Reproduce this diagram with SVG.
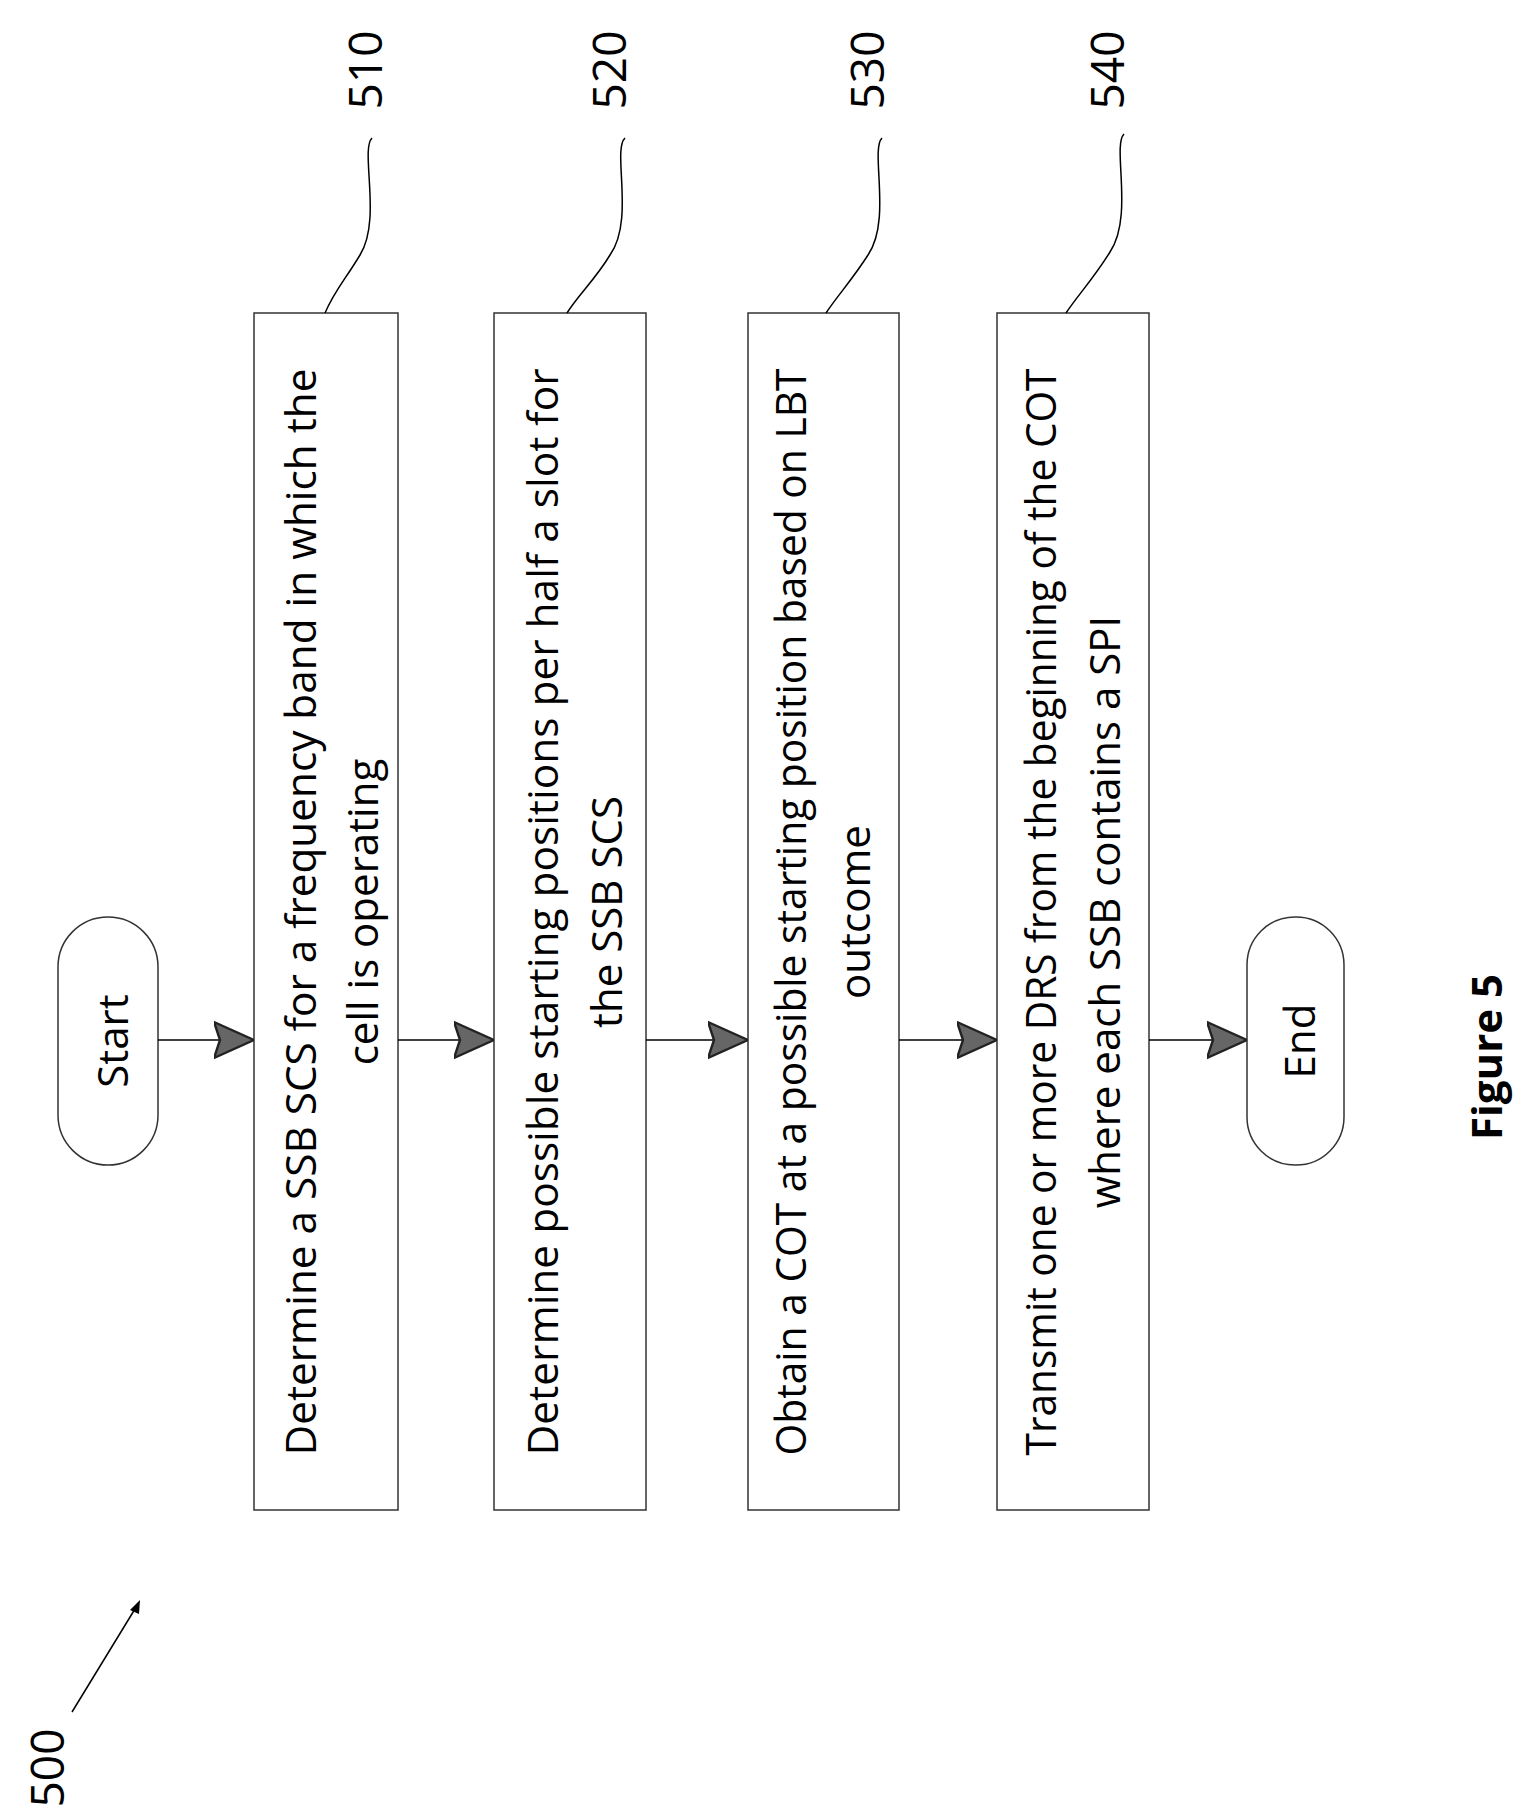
<svg xmlns="http://www.w3.org/2000/svg" width="1519" height="1814" viewBox="0 0 1519 1814">
<style>
.b{fill:#fff;stroke:#333;stroke-width:1.5}
.t{font-family:"Open Sans","Liberation Sans",sans-serif;font-size:42px;fill:#000;text-anchor:middle}
.n{font-size:46px}
.l{fill:none;stroke:#000;stroke-width:1.5}
</style>
<defs><marker id="a" viewBox="0 0 10 10" refX="10" refY="5" markerWidth="40" markerHeight="40" markerUnits="userSpaceOnUse" orient="auto"><path d="M0,0.5L10,5L0,9.5L1.5,5Z" fill="#666" stroke="#222" stroke-width="0.6"/></marker></defs>
<rect width="1519" height="1814" fill="#fff"/>
<g id="start"><rect class="b" x="58" y="917" width="100" height="248" rx="50"/><text class="t" transform="translate(128,1041) rotate(-90)">Start</text></g>
<g id="n510"><rect class="b" x="254" y="313" width="144" height="1197"/>
<text class="t" transform="translate(316,912) rotate(-90)" textLength="1087" lengthAdjust="spacingAndGlyphs">Determine a SSB SCS for a frequency band in which the</text>
<text class="t" transform="translate(378,912) rotate(-90)">cell is operating</text></g>
<g id="n520"><rect class="b" x="494" y="313" width="152" height="1197"/>
<text class="t" transform="translate(558,912) rotate(-90)" textLength="1087" lengthAdjust="spacingAndGlyphs">Determine possible starting positions per half a slot for</text>
<text class="t" transform="translate(622,912) rotate(-90)">the SSB SCS</text></g>
<g id="n530"><rect class="b" x="748" y="313" width="151" height="1197"/>
<text class="t" transform="translate(806,912) rotate(-90)" textLength="1087" lengthAdjust="spacingAndGlyphs">Obtain a COT at a possible starting position based on LBT</text>
<text class="t" transform="translate(870,912) rotate(-90)">outcome</text></g>
<g id="n540"><rect class="b" x="997" y="313" width="152" height="1197"/>
<text class="t" transform="translate(1056,912) rotate(-90)" textLength="1087" lengthAdjust="spacingAndGlyphs">Transmit one or more DRS from the beginning of the COT</text>
<text class="t" transform="translate(1120,912) rotate(-90)">where each SSB contains a SPI</text></g>
<g id="end"><rect class="b" x="1247" y="917" width="97" height="248" rx="48"/><text class="t" transform="translate(1315,1041) rotate(-90)">End</text></g>
<g id="connectors">
<line class="l" x1="158" y1="1040" x2="254" y2="1040" marker-end="url(#a)"/>
<line class="l" x1="398" y1="1040" x2="494" y2="1040" marker-end="url(#a)"/>
<line class="l" x1="646" y1="1040" x2="748" y2="1040" marker-end="url(#a)"/>
<line class="l" x1="899" y1="1040" x2="997" y2="1040" marker-end="url(#a)"/>
<line class="l" x1="1149" y1="1040" x2="1247" y2="1040" marker-end="url(#a)"/>
<path class="l" d="M372,138C360,150 382,220 360,255C345,280 335,290 325,313"/>
<path class="l" d="M625,138C612,150 635,220 610,255C595,280 578,295 567,313"/>
<path class="l" d="M882,138C870,150 892,220 868,255C852,280 838,295 826,313"/>
<path class="l" d="M1124,134C1112,146 1134,216 1110,252C1094,278 1078,295 1066,313"/>
<line class="l" x1="72" y1="1712" x2="138" y2="1604"/>
<path d="M140,1600L130,1610L139,1614Z" fill="#000"/>
</g>
<text class="t n" transform="translate(382,70) rotate(-90)">510</text>
<text class="t n" transform="translate(626,70) rotate(-90)">520</text>
<text class="t n" transform="translate(884,70) rotate(-90)">530</text>
<text class="t n" transform="translate(1124,70) rotate(-90)">540</text>
<text class="t n" transform="translate(64,1768) rotate(-90)">500</text>
<text class="t" transform="translate(1502,1057) rotate(-90)" font-weight="bold" font-size="50">Figure 5</text>
</svg>
